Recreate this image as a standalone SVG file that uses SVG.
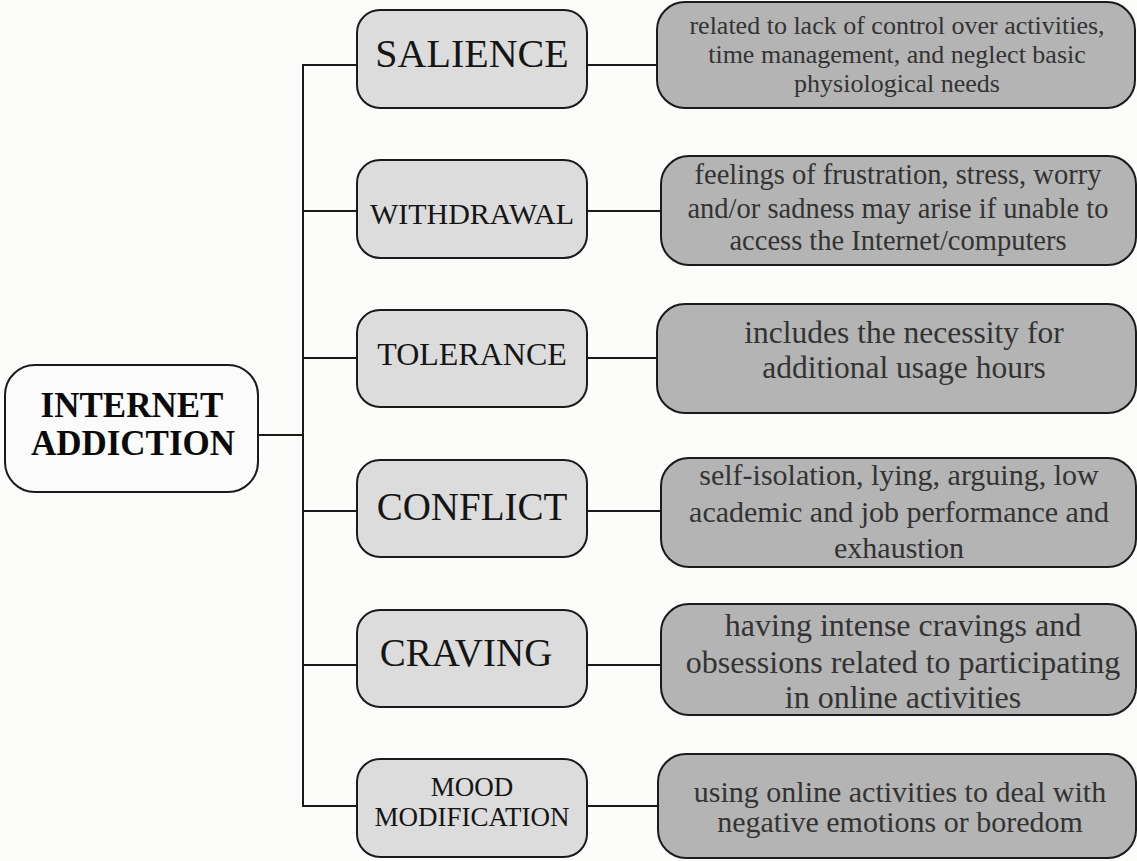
<svg xmlns="http://www.w3.org/2000/svg" width="1137" height="861" viewBox="0 0 1137 861">
<style>
.bg{fill:#fcfcfb}
.root{fill:#fbfbfb;stroke:#1a1a1a;stroke-width:2}
.mid{fill:#dcdcdc;stroke:#1a1a1a;stroke-width:2}
.desc{fill:#b4b4b4;stroke:#1a1a1a;stroke-width:2}
.conn line{stroke:#1a1a1a;stroke-width:2}
text{font-family:"Liberation Serif","Times New Roman",serif;text-anchor:middle}
.rt{font-size:35px;font-weight:bold;fill:#0a0a0a}
.mt{fill:#151515}
.dt{fill:#333}
</style>
<rect class="bg" x="0" y="0" width="1137" height="861"/>
<g id="connectors" class="conn">
<line x1="258" y1="435" x2="303" y2="435"/>
<line x1="303" y1="64" x2="303" y2="807"/>
<line x1="302" y1="65" x2="357" y2="65"/>
<line x1="302" y1="211" x2="357" y2="211"/>
<line x1="302" y1="358" x2="357" y2="358"/>
<line x1="302" y1="511" x2="357" y2="511"/>
<line x1="302" y1="665" x2="357" y2="665"/>
<line x1="302" y1="806" x2="357" y2="806"/>
<line x1="587" y1="65" x2="657" y2="65"/>
<line x1="587" y1="211" x2="661" y2="211"/>
<line x1="587" y1="358" x2="657" y2="358"/>
<line x1="587" y1="511" x2="661" y2="511"/>
<line x1="587" y1="665" x2="661" y2="665"/>
<line x1="587" y1="806" x2="658" y2="806"/>
</g>
<g id="root">
<rect class="root" x="5" y="365" width="253" height="127" rx="30"/>
<text class="rt" x="132" y="417">INTERNET</text>
<text class="rt" x="133" y="455">ADDICTION</text>
</g>
<g id="salience">
<rect class="mid" x="357" y="10" width="230" height="98" rx="23"/>
<text class="mt" x="472" y="67" font-size="40">SALIENCE</text>
</g>
<g id="withdrawal">
<rect class="mid" x="357" y="160" width="230" height="98" rx="23"/>
<text class="mt" x="472" y="224" font-size="30">WITHDRAWAL</text>
</g>
<g id="tolerance">
<rect class="mid" x="357" y="310" width="230" height="97" rx="23"/>
<text class="mt" x="472" y="365" font-size="32">TOLERANCE</text>
</g>
<g id="conflict">
<rect class="mid" x="357" y="460" width="230" height="97" rx="23"/>
<text class="mt" x="472" y="520" font-size="39">CONFLICT</text>
</g>
<g id="craving">
<rect class="mid" x="357" y="610" width="230" height="97" rx="23"/>
<text class="mt" x="466" y="666" font-size="39">CRAVING</text>
</g>
<g id="mood">
<rect class="mid" x="357" y="759" width="230" height="98" rx="23"/>
<text class="mt" x="472" y="796" font-size="27">MOOD</text>
<text class="mt" x="472" y="826" font-size="27">MODIFICATION</text>
</g>
<g id="salience-desc">
<rect class="desc" x="657" y="2" width="478" height="106" rx="28"/>
<text class="dt" x="897" y="34" font-size="26">related to lack of control over activities,</text>
<text class="dt" x="897" y="63" font-size="26">time management, and neglect basic</text>
<text class="dt" x="897" y="92" font-size="26">physiological needs</text>
</g>
<g id="withdrawal-desc">
<rect class="desc" x="661" y="156" width="475" height="109" rx="28"/>
<text class="dt" x="898" y="184" font-size="28.5">feelings of frustration, stress, worry</text>
<text class="dt" x="898" y="218" font-size="28.5">and/or sadness may arise if unable to</text>
<text class="dt" x="898" y="250" font-size="28.5">access the Internet/computers</text>
</g>
<g id="tolerance-desc">
<rect class="desc" x="657" y="304" width="479" height="109" rx="28"/>
<text class="dt" x="904" y="343" font-size="31.5">includes the necessity for</text>
<text class="dt" x="904" y="378" font-size="31.5">additional usage hours</text>
</g>
<g id="conflict-desc">
<rect class="desc" x="661" y="458" width="475" height="109" rx="28"/>
<text class="dt" x="899" y="485" font-size="30">self-isolation, lying, arguing, low</text>
<text class="dt" x="899" y="522" font-size="30">academic and job performance and</text>
<text class="dt" x="899" y="558" font-size="30">exhaustion</text>
</g>
<g id="craving-desc">
<rect class="desc" x="661" y="604" width="475" height="111" rx="28"/>
<text class="dt" x="903" y="636" font-size="32">having intense cravings and</text>
<text class="dt" x="903" y="673" font-size="32">obsessions related to participating</text>
<text class="dt" x="903" y="708" font-size="32">in online activities</text>
</g>
<g id="mood-desc">
<rect class="desc" x="658" y="754" width="478" height="104" rx="28"/>
<text class="dt" x="900" y="802" font-size="30">using online activities to deal with</text>
<text class="dt" x="900" y="832" font-size="30">negative emotions or boredom</text>
</g>
</svg>
